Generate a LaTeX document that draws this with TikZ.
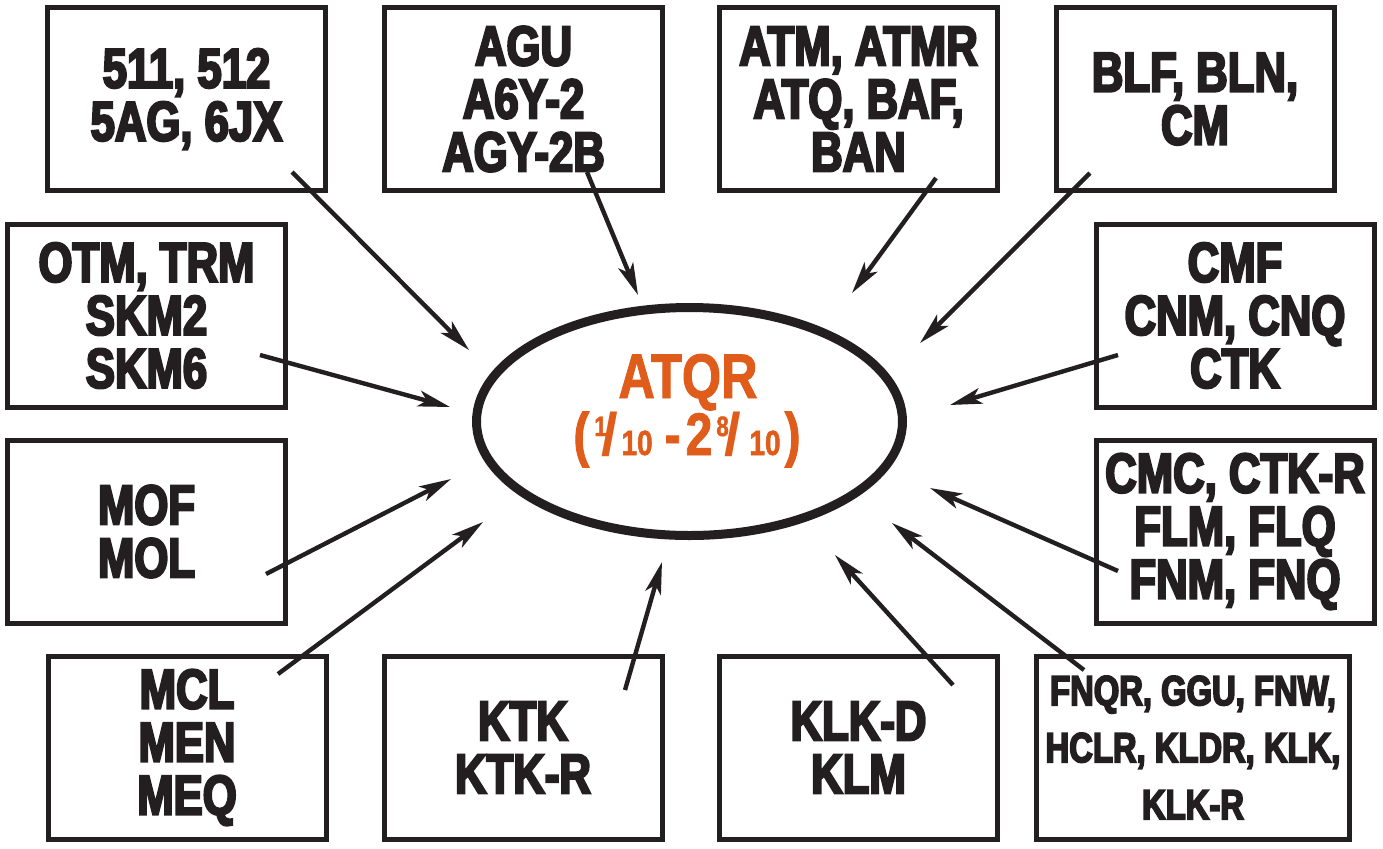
\documentclass[tikz,border=0pt]{standalone}
\usepackage{fontspec}
\setmainfont{Liberation Sans}
\newfontfamily\cond{Liberation Sans}[FakeStretch=0.78, BoldFeatures={FakeBold=4}]
\newfontfamily\ofont{Liberation Sans}[FakeStretch=0.8, BoldFeatures={FakeBold=1.5}]
\newfontfamily\plain{Liberation Sans}
\usetikzlibrary{arrows.meta,shapes.geometric}
\definecolor{ink}{HTML}{231F20}
\definecolor{orng}{RGB}{224,92,27}
\newcommand\numr[1]{\raisebox{9.5pt}{\fontsize{14}{14}\selectfont #1}}
\newcommand\denr[1]{{\fontsize{17.5}{17.5}\selectfont #1}}
\newcommand\fslash{{\plain\fontsize{30}{30}\selectfont /}}
\begin{document}
\begin{tikzpicture}[x=0.5pt,y=-0.5pt,
  box/.style={draw=ink,line width=2.5pt,minimum width=139pt,minimum height=91.5pt,
    inner sep=0pt,align=center,text=ink,
    font=\cond\bfseries\fontsize{28}{26.5}\selectfont},
  smallbox/.style={box,minimum width=156.5pt,font=\cond\bfseries\fontsize{21}{28.5}\selectfont},
  hub/.style={draw=ink,line width=4.5pt,ellipse,minimum width=213pt,minimum height=114pt,inner sep=0pt},
  feed/.style={draw=ink,line width=2.2pt,-{Stealth[length=16pt,width=8pt,inset=4pt]}},
  otext/.style={text=orng,inner sep=0pt,font=\ofont\bfseries\fontsize{31.5}{31.5}\selectfont}]
\useasboundingbox (0,0) rectangle (1383,848);
\fill[white] (0,0) rectangle (1383,848);

% boxes
\node[box] (b1)  at (186.5,99)   {511, 512\\5AG, 6JX};
\node[box] (b2)  at (523.5,99)   {AGU\\A6Y-2\\AGY-2B};
\node[box] (b3)  at (858.5,99)   {ATM, ATMR\\ATQ, BAF,\\BAN};
\node[box] (b4)  at (1195,99)    {BLF, BLN,\\CM};
\node[box] (b5)  at (146.5,315.5){OTM, TRM\\SKM2\\SKM6};
\node[box] (b6)  at (1235,315.5) {CMF\\CNM, CNQ\\CTK};
\node[box] (b7)  at (146.5,531.5){MOF\\MOL};
\node[box] (b8)  at (1235,531.5) {CMC, CTK-R\\FLM, FLQ\\FNM, FNQ};
\node[box] (b9)  at (187,747.5)  {MCL\\MEN\\MEQ};
\node[box] (b10) at (523,747.5)  {KTK\\KTK-R};
\node[box] (b11) at (858.5,747.5){KLK-D\\KLM};
\node[smallbox] (b12) at (1193,747.5){FNQR, GGU, FNW,\\HCLR, KLDR, KLK,\\KLK-R};

% hub
\node[hub] (hub) at (689.5,421.5) {};
\node[otext,anchor=base] (title) at (688,398) {ATQR};
\node[otext,anchor=base west] (range) at (573,455) {\fontsize{30}{30}\selectfont
  (\kern2.5pt\numr{1}\kern-2.5pt\fslash\kern1.5pt\denr{10}\kern6pt-\kern2.5pt2\kern2pt\numr{8}\kern-2pt\fslash\kern4pt\denr{10}\kern2pt)};

% arrow ends
\coordinate (s1) at (292,172);  \coordinate (e1) at (469,350);
\coordinate (s2) at (587,172);  \coordinate (e2) at (638,295);
\coordinate (s3) at (936,178);  \coordinate (e3) at (852,293);
\coordinate (s4) at (1090,173); \coordinate (e4) at (920,343);
\coordinate (s5) at (260,355);  \coordinate (e5) at (450,407);
\coordinate (s6) at (1118,355); \coordinate (e6) at (950,405);
\coordinate (s7) at (266,574);  \coordinate (e7) at (451,479);
\coordinate (s8) at (1118,571); \coordinate (e8) at (930,488);
\coordinate (s9) at (278,674);  \coordinate (e9) at (483,522);
\coordinate (s10) at (625,690); \coordinate (e10) at (662,562);
\coordinate (s11) at (953,685); \coordinate (e11) at (835,555);
\coordinate (s12) at (1084,670);\coordinate (e12) at (892,523);

\foreach \i in {1,...,12} {\draw[feed] (s\i) -- (e\i);}
\end{tikzpicture}
\end{document}
